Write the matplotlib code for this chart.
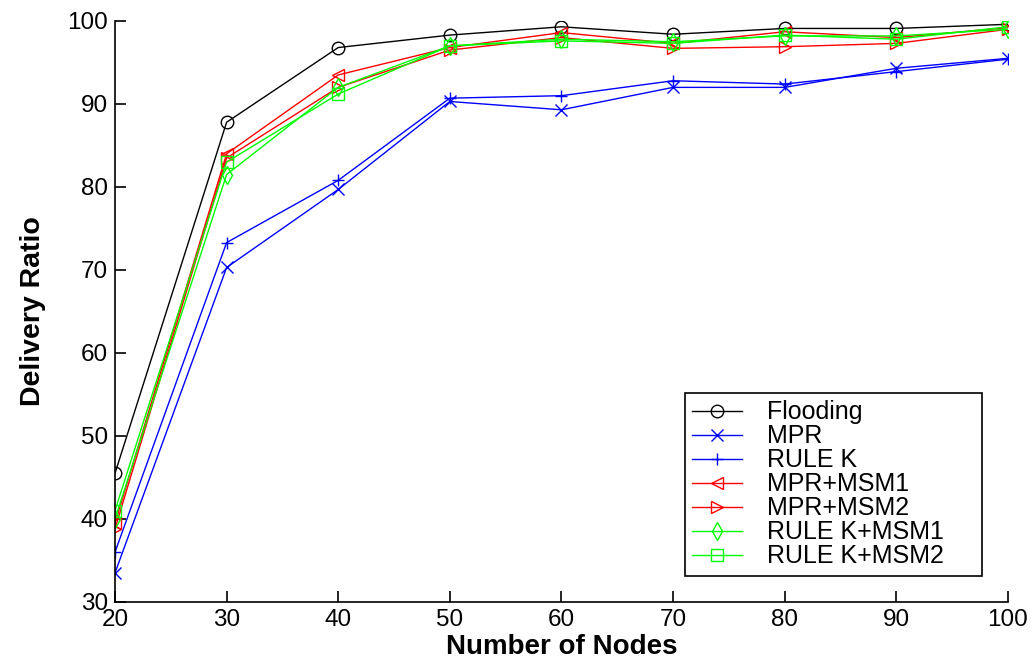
import matplotlib
matplotlib.use("Agg")
import matplotlib.pyplot as plt

nodes = [20, 30, 40, 50, 60, 70, 80, 90, 100]
flooding = [45.5, 87.8, 96.8, 98.3, 99.3, 98.4, 99.1, 99.1, 99.6]
mpr = [33.5, 70.3, 79.7, 90.3, 89.3, 92.0, 92.0, 94.3, 95.5]
rule_k = [36.0, 73.3, 80.8, 90.7, 91.0, 92.8, 92.4, 93.9, 95.4]
mpr_msm1 = [39.5, 84.0, 93.5, 96.8, 98.6, 97.3, 98.7, 98.0, 99.2]
mpr_msm2 = [38.8, 83.5, 92.0, 96.5, 98.0, 96.7, 96.9, 97.3, 99.0]
rulek_msm1 = [40.0, 81.5, 92.0, 97.0, 97.8, 97.5, 98.2, 98.2, 99.0]
rulek_msm2 = [41.0, 83.0, 91.2, 97.0, 97.6, 97.3, 98.3, 97.8, 99.3]

labels = ["Flooding", "MPR", "RULE K", "MPR+MSM1", "MPR+MSM2", "RULE K+MSM1", "RULE K+MSM2"]
series = [flooding, mpr, rule_k, mpr_msm1, mpr_msm2, rulek_msm1, rulek_msm2]
colors = ["black", "#0000ff", "#0000ff", "#ff0000", "#ff0000", "#00ff00", "#00ff00"]
markers = ["o", "x", "+", "<", ">", "d", "s"]

plt.rcParams["font.family"] = ["Liberation Sans", "DejaVu Sans"]

fig = plt.figure(figsize=(10.34, 6.66), dpi=100)
ax = fig.add_axes([0.1112, 0.0961, 0.8636, 0.8724])

for y, lab, c, m in zip(series, labels, colors, markers):
    ax.plot(nodes, y, color=c, marker=m, markersize=9, markerfacecolor="none",
            markeredgecolor=c, markeredgewidth=1.0, linewidth=1.0, label=lab)

ax.set_xlim(20, 100)
ax.set_ylim(30, 100)
ax.set_xticks(range(20, 101, 10))
ax.set_yticks(range(30, 101, 10))
ax.tick_params(direction="in", length=8, width=1.2, labelsize=17.5, pad=5)
for s in ["top", "right"]:
    ax.spines[s].set_visible(False)
for s in ["left", "bottom"]:
    ax.spines[s].set_linewidth(1.2)

ax.set_xlabel("Number of Nodes", fontsize=20, fontweight="bold", labelpad=2)
ax.set_ylabel("Delivery Ratio", fontsize=20.5, fontweight="bold", labelpad=15)

leg = ax.legend(loc="lower left", bbox_to_anchor=(0.638, 0.045, 0.333, 0.322),
                mode="expand", borderaxespad=0,
                fontsize=18, frameon=True, fancybox=False, edgecolor="black",
                framealpha=1, handlelength=2.0, borderpad=0.3, labelspacing=0.0,
                handletextpad=1.0)
leg.get_frame().set_linewidth(1.2)

fig.savefig("out.png", dpi=100)
